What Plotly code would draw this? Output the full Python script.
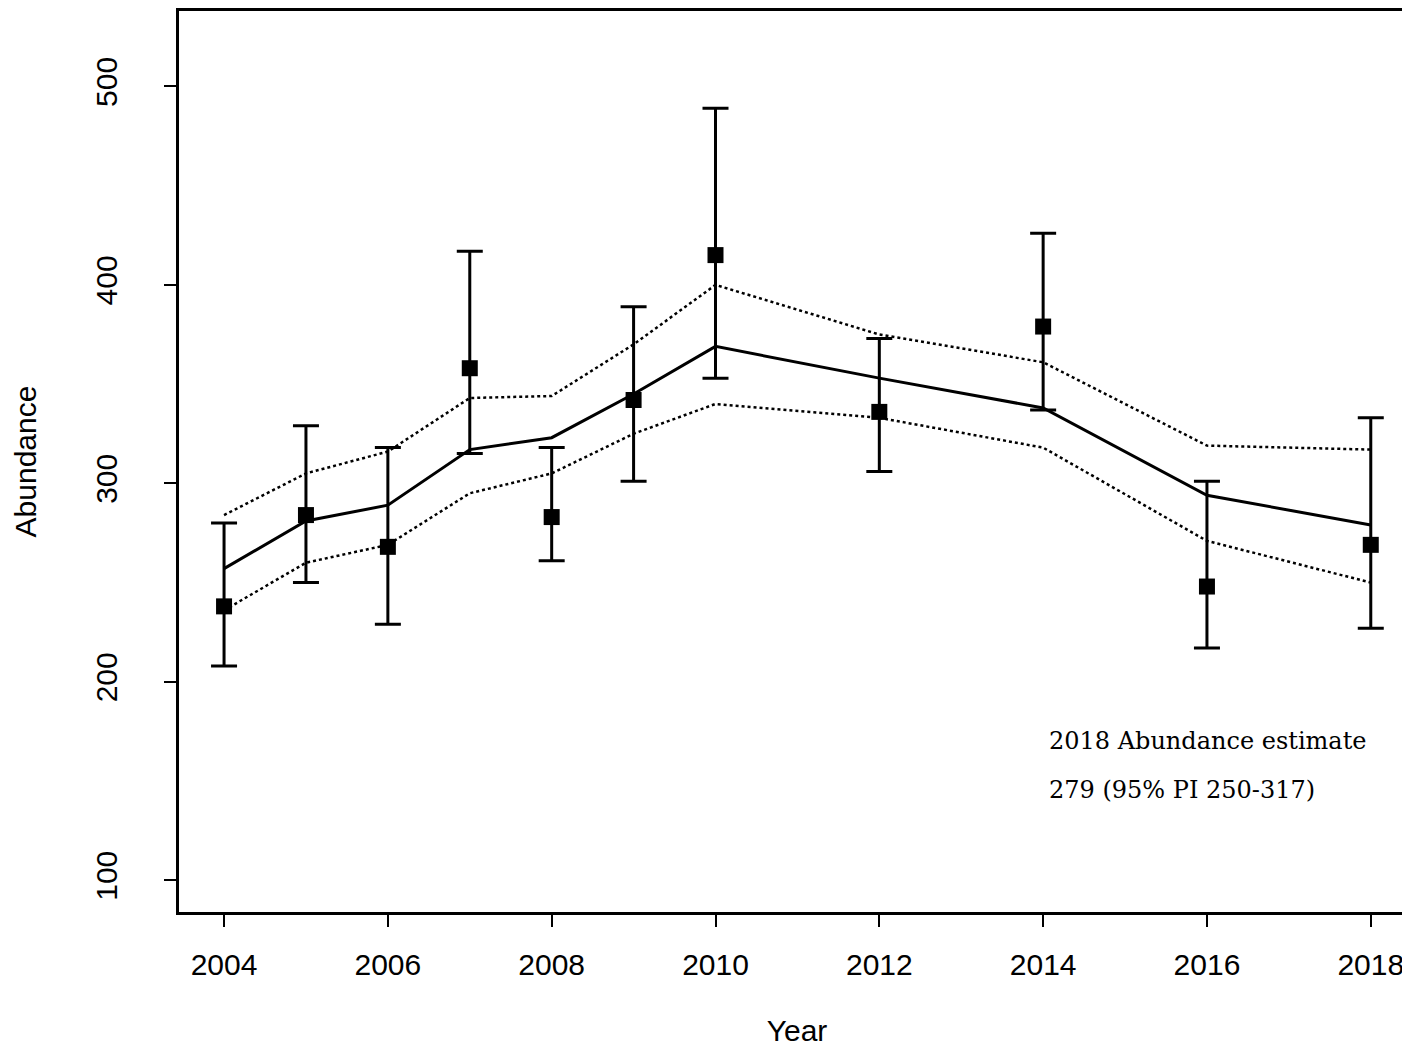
import plotly.graph_objects as go

years = [2004, 2005, 2006, 2007, 2008, 2009, 2010, 2012, 2014, 2016, 2018]
estimate = [238, 284, 268, 358, 283, 342, 415, 336, 379, 248, 269]
est_low = [208, 250, 229, 315, 261, 301, 353, 306, 337, 217, 227]
est_high = [280, 329, 318, 417, 318, 389, 489, 373, 426, 301, 333]
trend = [257, 281, 289, 317, 323, 345, 369, 353, 338, 294, 279]
trend_upper = [284, 305, 316, 343, 344, 370, 400, 375, 361, 319, 317]
trend_lower = [236, 260, 269, 295, 305, 325, 340, 333, 318, 271, 250]

fig = go.Figure()
for band in (trend_upper, trend_lower):
    fig.add_trace(go.Scatter(x=years, y=band, mode="lines",
                             line=dict(color="black", width=2.5, dash="dot")))
fig.add_trace(go.Scatter(x=years, y=trend, mode="lines",
                         line=dict(color="black", width=3)))
fig.add_trace(go.Scatter(
    x=years, y=estimate, mode="markers",
    marker=dict(symbol="square", size=16, color="black"),
    error_y=dict(type="data", symmetric=False,
                 array=[h - e for h, e in zip(est_high, estimate)],
                 arrayminus=[e - l for e, l in zip(estimate, est_low)],
                 color="black", thickness=3, width=13)))

fig.add_annotation(x=2014.05, y=170, xanchor="left", showarrow=False,
                   text="2018 Abundance estimate",
                   font=dict(family="DejaVu Serif", size=24, color="black"))
fig.add_annotation(x=2014.05, y=145.6, xanchor="left", showarrow=False,
                   text="279 (95% PI 250-317)",
                   font=dict(family="DejaVu Serif", size=24, color="black"))

axis_font = dict(family="Liberation Sans", size=30, color="black")
fig.update_layout(
    width=1410, height=1052, showlegend=False,
    plot_bgcolor="white", paper_bgcolor="white",
    margin=dict(l=171, r=0, t=0, b=148),
    xaxis=dict(range=[2003.45, 2018.54], tickvals=[2004, 2006, 2008, 2010, 2012, 2014, 2016, 2018],
               ticks="outside", ticklen=12, tickwidth=2, tickcolor="black",
               showline=True, linewidth=3, linecolor="black", mirror=True,
               showgrid=False, zeroline=False, tickfont=axis_font, ticklabelstandoff=12,
               title=dict(text="Year", font=axis_font, standoff=40)),
    yaxis=dict(range=[84, 538], tickvals=[100, 200, 300, 400, 500], tickangle=-90,
               ticks="outside", ticklen=12, tickwidth=2, tickcolor="black",
               showline=True, linewidth=3, linecolor="black", mirror=True,
               showgrid=False, zeroline=False, tickfont=axis_font, ticklabelstandoff=35,
               title=dict(text="Abundance", font=axis_font, standoff=45)),
)
fig.write_html("out.html")
